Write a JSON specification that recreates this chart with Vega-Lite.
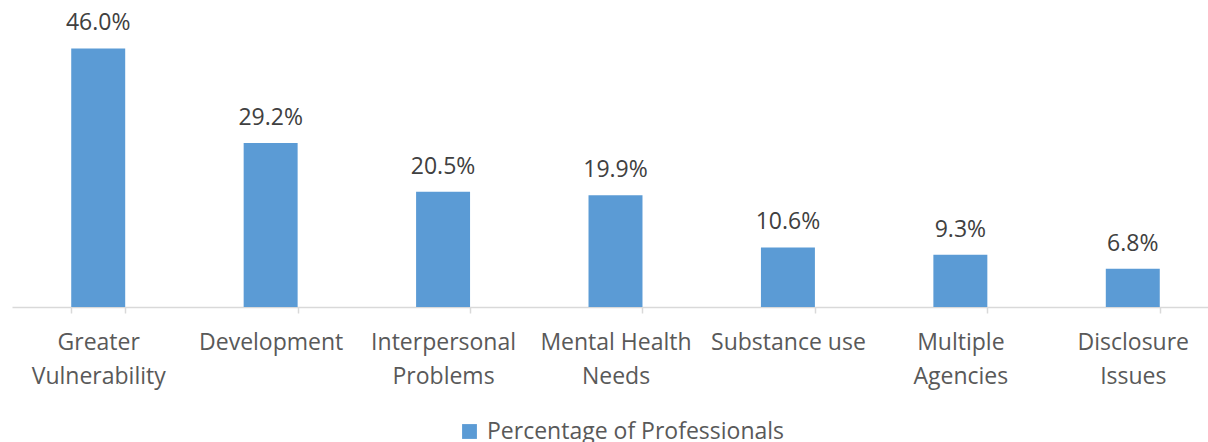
{
  "$schema": "https://vega.github.io/schema/vega-lite/v6.json",
  "autosize": {"type": "none"},
  "padding": {"left": 12, "top": 26, "right": 0, "bottom": 135},
  "width": 1207,
  "height": 281,
  "background": "white",
  "config": {"view": {"stroke": null}, "font": "Open Sans"},
  "data": {
    "values": [
      {"category": "Greater Vulnerability", "value": 0.460, "series": "Percentage of Professionals"},
      {"category": "Development", "value": 0.292, "series": "Percentage of Professionals"},
      {"category": "Interpersonal Problems", "value": 0.205, "series": "Percentage of Professionals"},
      {"category": "Mental Health Needs", "value": 0.199, "series": "Percentage of Professionals"},
      {"category": "Substance use", "value": 0.106, "series": "Percentage of Professionals"},
      {"category": "Multiple Agencies", "value": 0.093, "series": "Percentage of Professionals"},
      {"category": "Disclosure Issues", "value": 0.068, "series": "Percentage of Professionals"}
    ]
  },
  "encoding": {
    "x": {
      "field": "category",
      "type": "nominal",
      "sort": null,
      "scale": {"paddingInner": 0.687, "paddingOuter": 0.3435},
      "axis": {
        "title": null,
        "labelAngle": 0,
        "domainColor": "#d9d9d9",
        "domainWidth": 1.5,
        "tickColor": "#d9d9d9",
        "tickWidth": 1.5,
        "tickSize": 6,
        "tickBand": "extent",
        "labelFont": "Open Sans",
        "labelFontSize": 23,
        "labelColor": "#595959",
        "labelPadding": 18,
        "labelLineHeight": 34,
        "labelLimit": 0,
        "labelExpr": "datum.label == 'Greater Vulnerability' ? ['Greater', 'Vulnerability'] : datum.label == 'Interpersonal Problems' ? ['Interpersonal', 'Problems'] : datum.label == 'Mental Health Needs' ? ['Mental Health', 'Needs'] : datum.label == 'Multiple Agencies' ? ['Multiple', 'Agencies'] : datum.label == 'Disclosure Issues' ? ['Disclosure', 'Issues'] : datum.label"
      }
    },
    "y": {
      "field": "value",
      "type": "quantitative",
      "scale": {"domain": [0, 0.5]},
      "axis": null
    }
  },
  "layer": [
    {
      "mark": {"type": "bar", "color": "#5b9bd5"},
      "encoding": {
        "color": {
          "field": "series",
          "type": "nominal",
          "scale": {"range": ["#5b9bd5"]},
          "legend": {
            "title": null,
            "orient": "none",
            "legendX": 446,
            "legendY": 394,
            "symbolType": "square",
            "symbolSize": 220,
            "symbolStrokeWidth": 0,
            "labelOffset": 6,
            "labelLimit": 0,
            "labelFont": "Open Sans",
            "labelFontSize": 23,
            "labelColor": "#595959"
          }
        }
      }
    },
    {
      "mark": {"type": "text", "baseline": "bottom", "dy": -13, "fontSize": 23, "color": "#404040", "font": "Open Sans"},
      "encoding": {
        "text": {"field": "value", "type": "quantitative", "format": ".1%"}
      }
    }
  ]
}
